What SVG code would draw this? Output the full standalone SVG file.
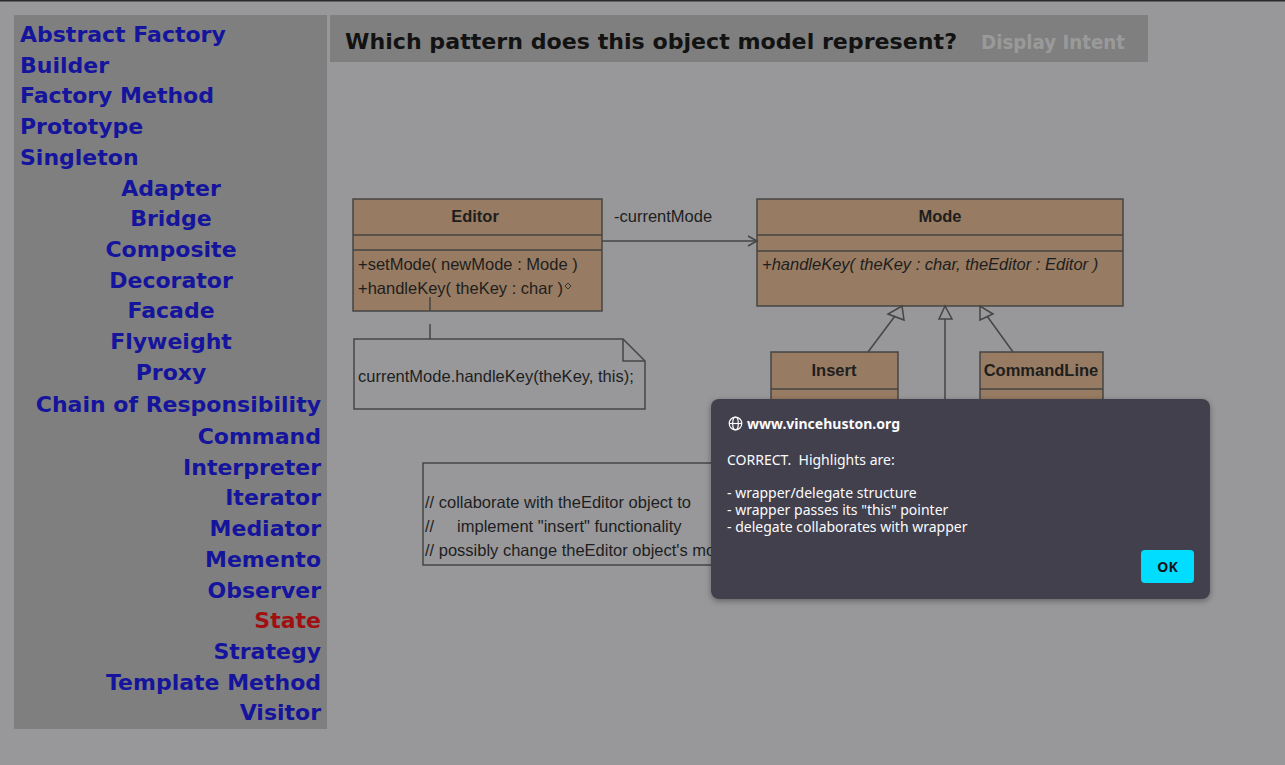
<svg xmlns="http://www.w3.org/2000/svg" width="1285" height="765" viewBox="0 0 1285 765">
<defs>
<style>
.menu{font-family:"DejaVu Sans",Verdana,sans-serif;font-weight:bold;font-size:22px;fill:#15149c}
.mc{text-anchor:middle}
.mr{text-anchor:end}
.hdr{font-family:"DejaVu Sans",Verdana,sans-serif;font-weight:bold;font-size:22px}
.box{fill:#977b62;stroke:#454545;stroke-width:1.5}
.ln{stroke:#454545;stroke-width:1.5;fill:none}
.uml{font-family:"Liberation Sans",Arial,sans-serif;font-size:16.5px;fill:#1e1e1e}
.b{font-weight:bold}
.ctr{text-anchor:middle}
.note{fill:#98989b;stroke:#454545;stroke-width:1.5}
.dlg{font-family:"Noto Sans","Open Sans",sans-serif;font-size:14px;fill:#fbfbfe}
.pre{white-space:pre}
</style>
<filter id="sh" x="-10%" y="-10%" width="120%" height="130%">
<feDropShadow dx="0" dy="2" stdDeviation="3" flood-color="#000" flood-opacity="0.35"/>
</filter>
</defs>
<rect x="0" y="0" width="1285" height="765" fill="#98989b"/>
<rect x="0" y="0" width="1285" height="1.5" fill="#2a2a2a"/>

<g id="sidebar">
<rect x="14" y="15" width="313" height="714" fill="#7f7f80"/>
<text class="menu" x="20" y="42">Abstract Factory</text>
<text class="menu" x="20" y="73">Builder</text>
<text class="menu" x="20" y="103">Factory Method</text>
<text class="menu" x="20" y="134">Prototype</text>
<text class="menu" x="20" y="165">Singleton</text>
<text class="menu mc" x="171" y="196">Adapter</text>
<text class="menu mc" x="171" y="226">Bridge</text>
<text class="menu mc" x="171" y="257">Composite</text>
<text class="menu mc" x="171" y="288">Decorator</text>
<text class="menu mc" x="171" y="318">Facade</text>
<text class="menu mc" x="171" y="349">Flyweight</text>
<text class="menu mc" x="171" y="380">Proxy</text>
<text class="menu mr" x="321" y="412">Chain of Responsibility</text>
<text class="menu mr" x="321" y="444">Command</text>
<text class="menu mr" x="321" y="475">Interpreter</text>
<text class="menu mr" x="321" y="505">Iterator</text>
<text class="menu mr" x="321" y="536">Mediator</text>
<text class="menu mr" x="321" y="567">Memento</text>
<text class="menu mr" x="321" y="598">Observer</text>
<text class="menu mr" x="321" y="628" style="fill:#a01010">State</text>
<text class="menu mr" x="321" y="659">Strategy</text>
<text class="menu mr" x="321" y="690">Template Method</text>
<text class="menu mr" x="321" y="720">Visitor</text>
</g>

<g id="header">
<rect x="330" y="15" width="818" height="47" fill="#7f7f7f"/>
<text class="hdr" x="345" y="49" fill="#121212" textLength="612" lengthAdjust="spacingAndGlyphs">Which pattern does this object model represent?</text>
<text class="hdr" x="981" y="49" fill="#9a9a9a" style="font-size:19px" textLength="144" lengthAdjust="spacingAndGlyphs">Display Intent</text>
</g>

<g id="editor">
<rect class="box" x="353" y="199" width="249" height="112"/>
<line class="ln" x1="353" y1="235" x2="602" y2="235"/>
<line class="ln" x1="353" y1="250" x2="602" y2="250"/>
<text class="uml b ctr" x="475" y="222">Editor</text>
<text class="uml" x="358" y="270">+setMode( newMode : Mode )</text>
<text class="uml" x="358" y="294">+handleKey( theKey : char )</text>
<polygon points="568,283 571,286 568,289 565,286" fill="none" stroke="#333" stroke-width="1"/>
</g>

<g id="mode">
<rect class="box" x="757" y="199" width="366" height="107"/>
<line class="ln" x1="757" y1="235" x2="1123" y2="235"/>
<line class="ln" x1="757" y1="251" x2="1123" y2="251"/>
<text class="uml b ctr" x="940" y="222">Mode</text>
<text class="uml" x="762" y="270" font-style="italic">+handleKey( theKey : char, theEditor : Editor )</text>
</g>

<g id="insert">
<rect class="box" x="771" y="352" width="127" height="80"/>
<line class="ln" x1="771" y1="389" x2="898" y2="389"/>
<text class="uml b ctr" x="834" y="376">Insert</text>
</g>

<g id="commandline">
<rect class="box" x="980" y="352" width="123" height="80"/>
<line class="ln" x1="980" y1="389" x2="1103" y2="389"/>
<text class="uml b ctr" x="1041" y="376">CommandLine</text>
</g>

<g id="note-editor">
<path class="note" d="M354,339 H623 L645,361 V409 H354 Z"/>
<polyline class="ln" points="623,339 623,361 645,361"/>
<text class="uml" x="358" y="382">currentMode.handleKey(theKey, this);</text>
</g>

<g id="note-insert">
<rect class="note" x="423" y="463" width="320" height="102"/>
<text class="uml" x="425" y="508">// collaborate with theEditor object to</text>
<text class="uml pre" x="425" y="532">//     implement "insert" functionality</text>
<text class="uml" x="425" y="556">// possibly change theEditor object's mode</text>
</g>

<g id="connectors">
<line class="ln" x1="602" y1="241" x2="757" y2="241"/>
<polyline class="ln" points="748,236 757,241 748,246"/>
<text class="uml" x="614" y="222">-currentMode</text>
<line class="ln" x1="430" y1="297" x2="430" y2="311"/>
<line class="ln" x1="430" y1="324" x2="430" y2="339"/>
<line class="ln" x1="868" y1="352" x2="895" y2="316"/>
<polygon class="ln" points="902,306 888,314 904,320"/>
<line class="ln" x1="945" y1="319" x2="945" y2="420"/>
<polygon class="ln" points="945,306 939,319 952,319"/>
<line class="ln" x1="1013" y1="352" x2="987" y2="316"/>
<polygon class="ln" points="980,306 980,320 993,314"/>
</g>

<g id="dialog">
<rect x="711" y="399" width="499" height="200" rx="8" fill="#42414d" filter="url(#sh)"/>
<g fill="none" stroke="#fbfbfe" stroke-width="1.2">
<circle cx="735.5" cy="423.5" r="6.3"/>
<ellipse cx="735.5" cy="423.5" rx="2.8" ry="6.3"/>
<line x1="729.2" y1="423.5" x2="741.8" y2="423.5"/>
</g>
<text class="dlg" x="747" y="428.5" font-weight="bold">www.vincehuston.org</text>
<text class="dlg pre" x="727" y="464.5">CORRECT.  Highlights are:</text>
<text class="dlg" x="727" y="497.5">- wrapper/delegate structure</text>
<text class="dlg" x="727" y="514.5">- wrapper passes its "this" pointer</text>
<text class="dlg" x="727" y="531.5">- delegate collaborates with wrapper</text>
<rect x="1141" y="550" width="53" height="33" rx="4" fill="#00ddff"/>
<text class="dlg" x="1167.5" y="571.5" text-anchor="middle" font-weight="bold" style="fill:#15141a">OK</text>
</g>
</svg>
